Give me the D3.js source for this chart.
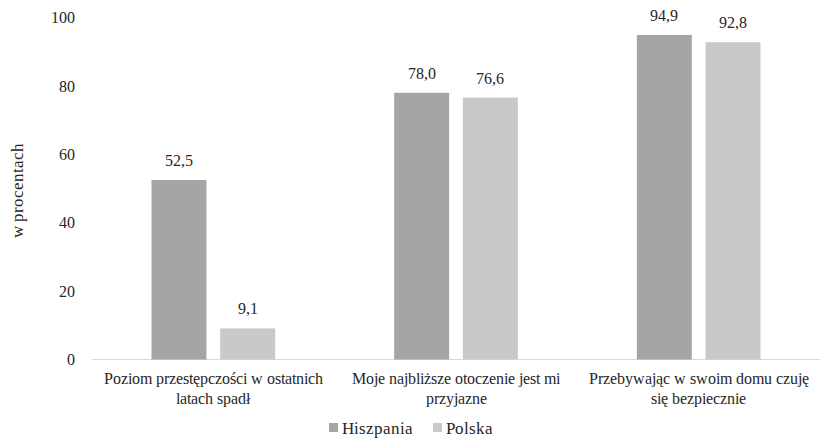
<!DOCTYPE html>
<html><head><meta charset="utf-8">
<script src="https://cdn.jsdelivr.net/npm/d3@7"></script>
<style>
@font-face{font-family:"ChartSerif";src:local("Liberation Serif"),local("LiberationSerif");}
svg text, svg tspan{font-family:"ChartSerif","Liberation Serif",serif !important;}
</style>
</head><body style="margin:0;background:#fff"><svg id="c" width="820" height="441"></svg>
<script>
const categories = [["Poziom przestępczości w ostatnich","latach spadł"],["Moje najbliższe otoczenie jest mi","przyjazne"],["Przebywając w swoim domu czuję","się bezpiecznie"]];
const seriesNames = ["Hiszpania","Polska"];
const hiszpania = [52.5, 78.0, 94.9];
const polska = [9.1, 76.6, 92.8];
const yTicks = [0,20,40,60,80,100];
const colors = ["#a5a5a8","#c9c9c9"];
const FONT = "Liberation Serif";

const svg = d3.select("#c");
const values = [hiszpania, polska];
const x0 = d3.scaleBand().domain(d3.range(categories.length)).range([92,820]).padding(0);
const x1 = d3.scaleBand().domain(d3.range(seriesNames.length)).range([59.5, x0.bandwidth()-59.5]).paddingInner(0.2);
const y = d3.scaleLinear().domain([0,100]).range([359.5,17.6]);

const yAxis = svg.append("g").attr("transform","translate(92,0)")
  .call(d3.axisLeft(y).tickValues(yTicks).tickSize(0).tickPadding(17));
yAxis.select(".domain").remove();
yAxis.attr("font-family",FONT).attr("font-size",16);
yAxis.selectAll("text").attr("font-family",FONT).attr("font-size",16).attr("fill","#262626");

svg.append("line").attr("x1",92).attr("x2",820).attr("y1",y(0)).attr("y2",y(0)).attr("stroke","#d9d9d9").attr("stroke-width",1);

seriesNames.forEach((s,si)=>{
  const g = svg.append("g");
  g.selectAll("rect").data(values[si]).join("rect")
    .attr("x",(d,i)=>x0(i)+x1(si)).attr("width",x1.bandwidth())
    .attr("y",d=>y(d)).attr("height",d=>y(0)-y(d)).attr("fill",colors[si]);
  g.selectAll("text").data(values[si]).join("text")
    .attr("x",(d,i)=>x0(i)+x1(si)+x1.bandwidth()/2).attr("y",d=>y(d)-14)
    .attr("text-anchor","middle").attr("font-size",16).attr("font-family",FONT).attr("fill","#262626")
    .text(d=>d.toFixed(1).replace(".",","));
});

categories.forEach((lines,i)=>{
  const t = svg.append("text").attr("text-anchor","middle").attr("font-size",16).attr("font-family",FONT).attr("fill","#262626");
  lines.forEach((l,j)=>t.append("tspan").attr("x",x0(i)+x0.bandwidth()/2).attr("y",384+j*20).text(l));
});

svg.append("text").attr("transform","translate(23,190) rotate(-90)").attr("text-anchor","middle")
  .attr("font-size",17).attr("font-family",FONT).attr("fill","#262626").text("w procentach");

const legX = [329, 433];
seriesNames.forEach((s,si)=>{
  svg.append("rect").attr("x",legX[si]).attr("y",423).attr("width",9).attr("height",9).attr("fill",colors[si]);
  svg.append("text").attr("x",legX[si]+13).attr("y",433.5).attr("font-size",17).attr("font-family",FONT).attr("fill","#262626").text(s);
});
</script></body></html>
